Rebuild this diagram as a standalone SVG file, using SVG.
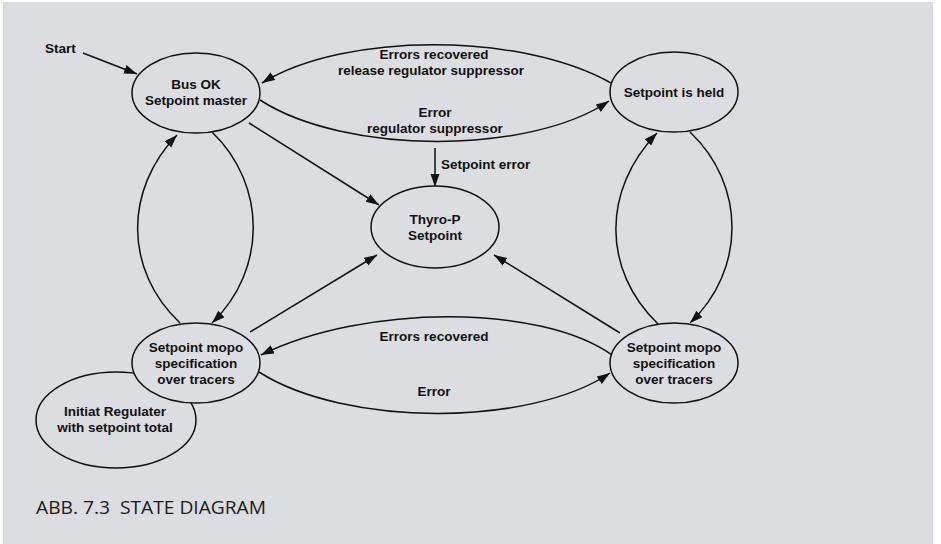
<svg xmlns="http://www.w3.org/2000/svg" width="941" height="544" viewBox="0 0 941 544">
<defs>
<style>
.bg{fill:#dcdde0}
.node{fill:#dcdde0;stroke:#111;stroke-width:1.5}
.t{font-family:"Liberation Sans",Arial,sans-serif;font-size:13.5px;font-weight:bold;fill:#111;text-anchor:middle}
.l{font-family:"Liberation Sans",Arial,sans-serif;font-size:13.5px;font-weight:bold;fill:#111}
.c{fill:none;stroke:#111;stroke-width:1.5}
.cap{font-family:"Open Sans","Noto Sans",sans-serif;font-size:18px;fill:#1a1a1a;white-space:pre}
</style>
<marker id="ah" markerUnits="userSpaceOnUse" markerWidth="14" markerHeight="10" refX="13" refY="4.5" orient="auto">
<path d="M0,0 L13,4.5 L0,9 z" fill="#111"/>
</marker>
</defs>
<rect x="0" y="0" width="941" height="544" fill="#ffffff"/>
<rect class="bg" x="3" y="2" width="930" height="542"/>

<g id="connectors">
<path class="c" d="M83,53 L137,74" marker-end="url(#ah)"/>
<path class="c" d="M611,83 C520,32 345,32 262,83" marker-end="url(#ah)"/>
<path class="c" d="M260,100 C345,155 530,155 609,101" marker-end="url(#ah)"/>
<path class="c" d="M435,148 L435,187" marker-end="url(#ah)"/>
<path class="c" d="M249,123 L379,205" marker-end="url(#ah)"/>
<path class="c" d="M180,323 C124,270 124,190 177,135" marker-end="url(#ah)"/>
<path class="c" d="M212,132 C267,185 267,270 212,323" marker-end="url(#ah)"/>
<path class="c" d="M658,324 C602,270 602,190 657,133" marker-end="url(#ah)"/>
<path class="c" d="M690,132 C746,185 746,270 690,323" marker-end="url(#ah)"/>
<path class="c" d="M250,332 L377,255" marker-end="url(#ah)"/>
<path class="c" d="M620,333 L494,255" marker-end="url(#ah)"/>
<path class="c" d="M612,355 C540,304 365,304 261,355" marker-end="url(#ah)"/>
<path class="c" d="M259,372 C345,427 530,427 610,373" marker-end="url(#ah)"/>
<text class="l" x="45" y="53">Start</text>
<text class="t" x="434" y="59">Errors recovered</text>
<text class="t" x="431" y="75">release regulator suppressor</text>
<text class="t" x="435" y="117">Error</text>
<text class="t" x="435" y="133">regulator suppressor</text>
<text class="l" x="441" y="169">Setpoint error</text>
<text class="t" x="434" y="341">Errors recovered</text>
<text class="t" x="434" y="396">Error</text>
</g>

<g id="initiat">
<ellipse class="node" cx="116" cy="420" rx="80" ry="48"/>
<text class="t" x="115" y="416">Initiat Regulater</text>
<text class="t" x="115" y="432">with setpoint total</text>
</g>

<g id="busok">
<ellipse class="node" cx="196" cy="93" rx="64" ry="40"/>
<text class="t" x="196" y="88.5">Bus OK</text>
<text class="t" x="196" y="104.5">Setpoint master</text>
</g>

<g id="held">
<ellipse class="node" cx="674" cy="92" rx="64" ry="40"/>
<text class="t" x="674" y="97">Setpoint is held</text>
</g>

<g id="thyro">
<ellipse class="node" cx="435" cy="227" rx="64" ry="41"/>
<text class="t" x="435" y="223.5">Thyro-P</text>
<text class="t" x="435" y="240">Setpoint</text>
</g>

<g id="mopoL">
<ellipse class="node" cx="196" cy="363" rx="64" ry="40"/>
<text class="t" x="196" y="352">Setpoint mopo</text>
<text class="t" x="196" y="368">specification</text>
<text class="t" x="196" y="384">over tracers</text>
</g>

<g id="mopoR">
<ellipse class="node" cx="674" cy="363" rx="64" ry="40"/>
<text class="t" x="674" y="352">Setpoint mopo</text>
<text class="t" x="674" y="368">specification</text>
<text class="t" x="674" y="384">over tracers</text>
</g>

<text class="cap" x="36" y="514" textLength="230" lengthAdjust="spacingAndGlyphs" xml:space="preserve">ABB. 7.3  STATE DIAGRAM</text>
</svg>
